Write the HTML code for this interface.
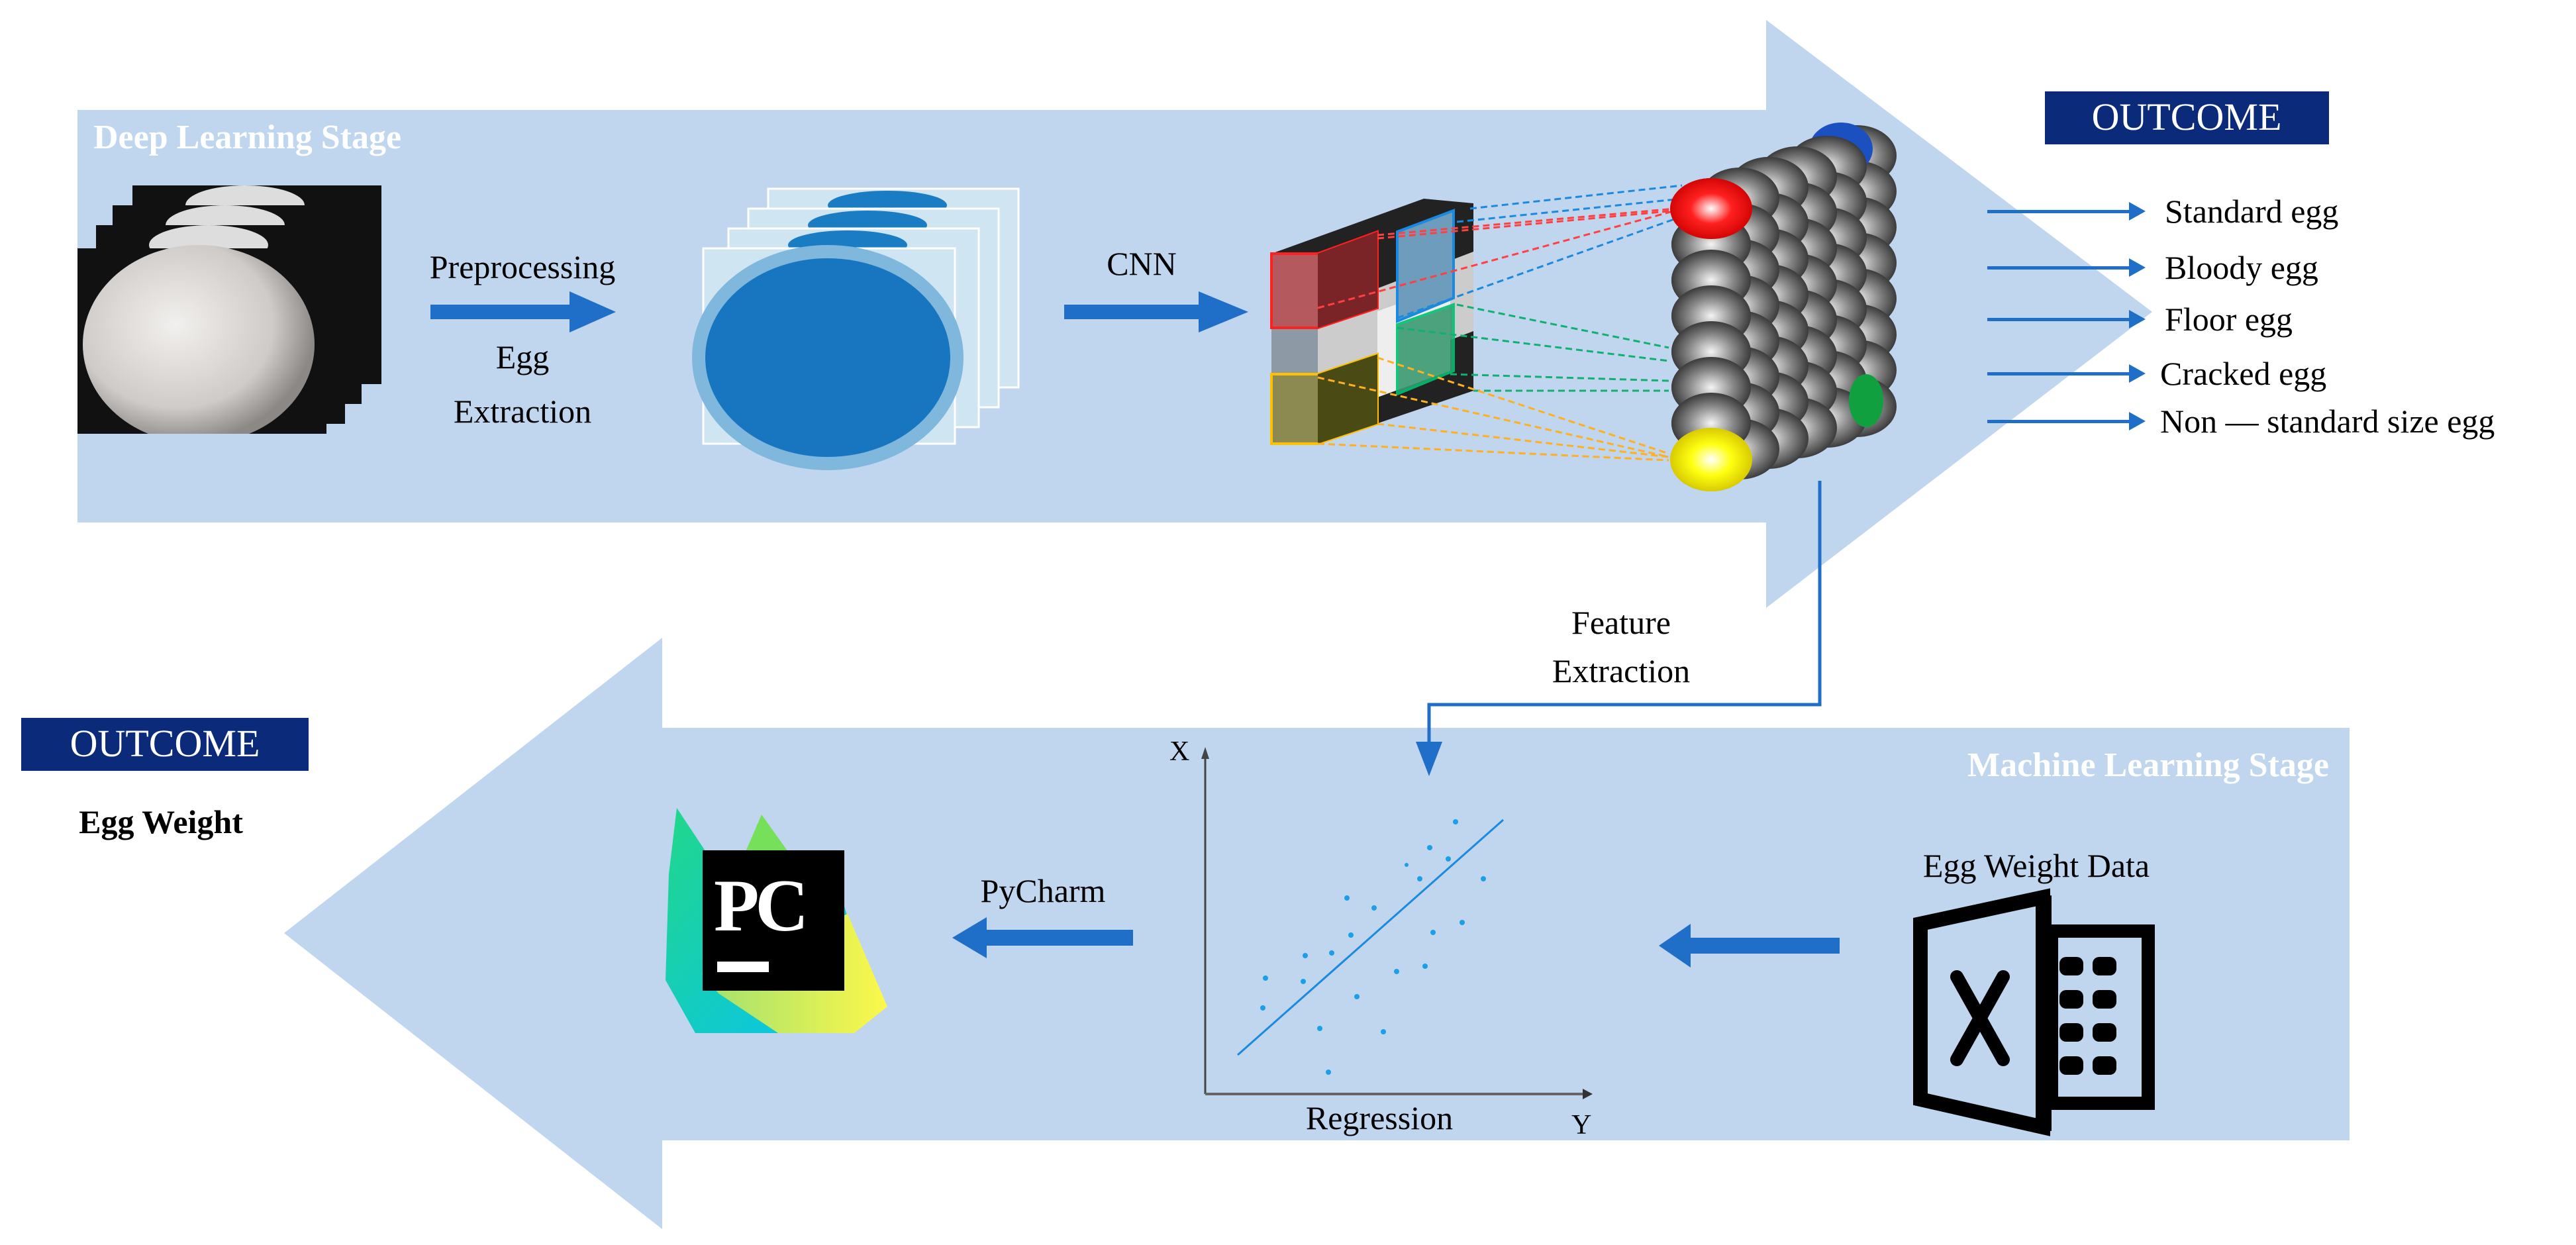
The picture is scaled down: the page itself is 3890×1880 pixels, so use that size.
<!DOCTYPE html>
<html><head><meta charset="utf-8"><style>
html,body{margin:0;padding:0;background:#fff}
svg{display:block}
text{font-family:"Liberation Serif",serif}
</style></head><body>
<svg width="3890" height="1880" viewBox="0 0 3890 1880" xmlns="http://www.w3.org/2000/svg">
<defs>
<radialGradient id="gb" cx="0.5" cy="0.5" r="0.55"><stop offset="0" stop-color="#f4f4f4"/><stop offset="0.5" stop-color="#8a8a8a"/><stop offset="1" stop-color="#2a2a2a"/></radialGradient>
<radialGradient id="gr" cx="0.5" cy="0.5" r="0.55"><stop offset="0" stop-color="#fff"/><stop offset="0.45" stop-color="#ff2020"/><stop offset="1" stop-color="#c00"/></radialGradient>
<radialGradient id="gy" cx="0.5" cy="0.5" r="0.55"><stop offset="0" stop-color="#fff"/><stop offset="0.45" stop-color="#ffff10"/><stop offset="1" stop-color="#d0c000"/></radialGradient>
<radialGradient id="ge" cx="0.4" cy="0.4" r="0.6"><stop offset="0" stop-color="#f2f0ee"/><stop offset="0.7" stop-color="#cfcbc8"/><stop offset="1" stop-color="#8c8886"/></radialGradient>
<linearGradient id="pcg" x1="0" y1="0" x2="1" y2="1"><stop offset="0" stop-color="#21d789"/><stop offset="1" stop-color="#07c3f2"/></linearGradient>
<linearGradient id="pcy" x1="0" y1="0" x2="1" y2="0"><stop offset="0" stop-color="#a0e070"/><stop offset="1" stop-color="#fcf84a"/></linearGradient>
</defs>
<polygon points="117,166 2667,166 2667,30 3250,471 2667,918 2667,789 117,789" fill="#c0d5ee"/>
<polygon points="3548,1099 1000,1099 1000,963 429,1409 1000,1856 1000,1722 3548,1722" fill="#c0d5ee"/>

<text x="141" y="224" font-size="52" font-weight="bold" fill="#fff">Deep Learning Stage</text>

<g>
<rect x="200" y="280" width="376" height="300" fill="#111"/>
<ellipse cx="370" cy="310" rx="90" ry="30" fill="#ddd"/>
<rect x="170" y="310" width="376" height="300" fill="#111"/>
<ellipse cx="340" cy="340" rx="90" ry="30" fill="#ddd"/>
<rect x="145" y="340" width="376" height="300" fill="#111"/>
<ellipse cx="315" cy="370" rx="90" ry="30" fill="#ddd"/>
<rect x="117" y="375" width="376" height="280" fill="#111"/>
<ellipse cx="300" cy="520" rx="175" ry="150" fill="url(#ge)"/>
<rect x="117" y="655" width="380" height="20" fill="#c0d5ee"/>
</g>

<text x="789" y="420" font-size="50" text-anchor="middle">Preprocessing</text>
<text x="789" y="556" font-size="50" text-anchor="middle">Egg</text>
<text x="789" y="638" font-size="50" text-anchor="middle">Extraction</text>
<g fill="#1f6fc8"><rect x="650" y="460" width="220" height="22"/><polygon points="860,440 930,471 860,502"/></g>

<g>
<rect x="1160" y="285" width="378" height="300" fill="#cfe6f2" stroke="#fff" stroke-width="3"/>
<ellipse cx="1340" cy="310" rx="90" ry="22" fill="#1a7cc2"/>
<rect x="1130" y="315" width="378" height="300" fill="#cfe6f2" stroke="#fff" stroke-width="3"/>
<ellipse cx="1310" cy="340" rx="90" ry="22" fill="#1a7cc2"/>
<rect x="1100" y="345" width="378" height="300" fill="#cfe6f2" stroke="#fff" stroke-width="3"/>
<ellipse cx="1280" cy="370" rx="90" ry="22" fill="#1a7cc2"/>
<rect x="1062" y="375" width="380" height="295" fill="#cfe6f2" stroke="#fff" stroke-width="3"/>
<ellipse cx="1250" cy="540" rx="195" ry="160" fill="#1876c0"/>
<ellipse cx="1250" cy="540" rx="195" ry="160" fill="none" stroke="#7fb8dc" stroke-width="20"/>
</g>

<text x="1724" y="415" font-size="50" text-anchor="middle">CNN</text>
<g fill="#1f6fc8"><rect x="1607" y="460" width="210" height="22"/><polygon points="1810,440 1885,471 1810,502"/></g>

<g>
<polygon points="1920,383 2150,300 2225,307 2225,590 1990,670 1920,670" fill="#222"/>
<polygon points="1990,470 2225,380 2225,500 1990,590" fill="#ccc"/>
<polygon points="2080,470 2190,430 2190,560 2080,600" fill="#eee"/>
<rect x="1920" y="495" width="70" height="80" fill="#8d9aa6"/>
<polygon points="1920,383 1990,383 2080,350 2080,465 1990,495 1920,495" fill="#b45a5e" stroke="#ff2020" stroke-width="4"/>
<polygon points="1990,383 2080,350 2080,465 1990,495" fill="#7a2428"/>
<polygon points="2110,350 2195,318 2195,450 2110,485" fill="#6d9cbc" stroke="#1a8ae0" stroke-width="4"/>
<polygon points="2110,490 2195,460 2195,560 2110,595" fill="#3a9a70" stroke="#00c070" stroke-width="4" opacity="0.9"/>
<polygon points="1920,565 1990,565 2080,535 2080,640 1990,670 1920,670" fill="#8c8a50" stroke="#ffc000" stroke-width="4"/>
<polygon points="1990,565 2080,535 2080,640 1990,670" fill="#4a4a14"/>
</g>
<g stroke-dasharray="10,6" stroke-width="3" fill="none">
<line x1="2220" y1="315" x2="2540" y2="280" stroke="#1a8ae0"/>
<line x1="2200" y1="335" x2="2540" y2="300" stroke="#1a8ae0"/>
<line x1="2110" y1="480" x2="2545" y2="325" stroke="#1a8ae0"/>
<line x1="2080" y1="355" x2="2530" y2="315" stroke="#ff4040"/>
<line x1="2080" y1="360" x2="2530" y2="318" stroke="#ff4040"/>
<line x1="1990" y1="465" x2="2530" y2="318" stroke="#ff4040"/>
<line x1="2200" y1="460" x2="2520" y2="525" stroke="#10b070"/>
<line x1="2110" y1="495" x2="2520" y2="545" stroke="#10b070"/>
<line x1="2190" y1="565" x2="2520" y2="575" stroke="#10b070"/>
<line x1="2225" y1="590" x2="2520" y2="590" stroke="#10b070"/>
<line x1="2080" y1="540" x2="2520" y2="685" stroke="#ffb020"/>
<line x1="1990" y1="570" x2="2520" y2="690" stroke="#ffb020"/>
<line x1="2080" y1="640" x2="2520" y2="690" stroke="#ffb020"/>
<line x1="1990" y1="670" x2="2520" y2="695" stroke="#ffb020"/>
</g>
<!-- balls: back columns first -->
<g>
<g id="bc">
<ellipse cx="2584" cy="315" rx="60" ry="46" fill="url(#gb)"/>
<ellipse cx="2584" cy="369" rx="60" ry="46" fill="url(#gb)"/>
<ellipse cx="2584" cy="423" rx="60" ry="46" fill="url(#gb)"/>
<ellipse cx="2584" cy="477" rx="60" ry="46" fill="url(#gb)"/>
<ellipse cx="2584" cy="531" rx="60" ry="46" fill="url(#gb)"/>
<ellipse cx="2584" cy="585" rx="60" ry="46" fill="url(#gb)"/>
<ellipse cx="2584" cy="639" rx="60" ry="46" fill="url(#gb)"/>
<ellipse cx="2584" cy="694" rx="60" ry="46" fill="url(#gb)"/>
</g>
</g>
<g>
<use href="#bc" x="220" y="-80"/>
<ellipse cx="2780" cy="225" rx="48" ry="40" fill="#1a50c0"/>
<use href="#bc" x="175" y="-64"/>
<ellipse cx="2818" cy="605" rx="26" ry="40" fill="#10a040"/>
<use href="#bc" x="130" y="-48"/>
<use href="#bc" x="87" y="-32"/>
<use href="#bc" x="43" y="-16"/>
<use href="#bc" x="0" y="0"/>
<ellipse cx="2584" cy="315" rx="62" ry="46" fill="url(#gr)"/>
<ellipse cx="2584" cy="694" rx="62" ry="48" fill="url(#gy)"/>
</g>

<rect x="3088" y="138" width="429" height="80" fill="#0c2a7a"/>
<text x="3302" y="196" font-size="58" fill="#fff" text-anchor="middle">OUTCOME</text>
<g fill="#1f6fc8">
<rect x="3001" y="317" width="220" height="5"/><polygon points="3215,305 3240,319 3215,333"/>
<rect x="3001" y="402" width="220" height="5"/><polygon points="3215,390 3240,404 3215,418"/>
<rect x="3001" y="480" width="220" height="5"/><polygon points="3215,468 3240,482 3215,496"/>
<rect x="3001" y="562" width="220" height="5"/><polygon points="3215,550 3240,564 3215,578"/>
<rect x="3001" y="634" width="220" height="5"/><polygon points="3215,622 3240,636 3215,650"/>
</g>
<g font-size="50">
<text x="3269" y="336">Standard egg</text>
<text x="3269" y="421">Bloody egg</text>
<text x="3269" y="499">Floor egg</text>
<text x="3262" y="581">Cracked egg</text>
<text x="3262" y="653">Non — standard size egg</text>
</g>

<polyline points="2748,726 2748,1064 2158,1064 2158,1130" fill="none" stroke="#1f6fc8" stroke-width="5"/>
<polygon points="2138,1120 2178,1120 2158,1172" fill="#1f6fc8"/>
<text x="2448" y="957" font-size="50" text-anchor="middle">Feature</text>
<text x="2448" y="1030" font-size="50" text-anchor="middle">Extraction</text>

<rect x="32" y="1084" width="434" height="80" fill="#0c2a7a"/>
<text x="249" y="1142" font-size="58" fill="#fff" text-anchor="middle">OUTCOME</text>
<text x="243" y="1258" font-size="50" font-weight="bold" text-anchor="middle">Egg Weight</text>

<text x="3517" y="1172" font-size="52" font-weight="bold" fill="#fff" text-anchor="end">Machine Learning Stage</text>

<g>
<line x1="1820" y1="1136" x2="1820" y2="1652" stroke="#444" stroke-width="3"/>
<polygon points="1814,1146 1826,1146 1820,1128" fill="#444"/>
<line x1="1820" y1="1652" x2="2395" y2="1652" stroke="#666" stroke-width="4"/>
<polygon points="2390,1644 2405,1652 2390,1660" fill="#333"/>
<text x="1766" y="1148" font-size="42" font-family="Liberation Sans">X</text>
<text x="2373" y="1712" font-size="42" font-family="Liberation Sans">Y</text>
<text x="2083" y="1705" font-size="50" text-anchor="middle">Regression</text>
<line x1="1869" y1="1593" x2="2270" y2="1238" stroke="#1a8ae0" stroke-width="3"/>
<g fill="#1aa0e8">
<circle cx="2198" cy="1241" r="4"/><circle cx="2159" cy="1280" r="4"/><circle cx="2187" cy="1297" r="4"/>
<circle cx="2124" cy="1306" r="3"/><circle cx="2144" cy="1327" r="4"/><circle cx="2240" cy="1327" r="4"/>
<circle cx="2034" cy="1356" r="4"/><circle cx="2075" cy="1371" r="4"/><circle cx="2208" cy="1393" r="4"/>
<circle cx="2164" cy="1408" r="4"/><circle cx="2040" cy="1412" r="4"/><circle cx="1971" cy="1443" r="4"/>
<circle cx="2011" cy="1439" r="4"/><circle cx="2152" cy="1459" r="4"/><circle cx="2109" cy="1467" r="4"/>
<circle cx="1911" cy="1477" r="4"/><circle cx="1968" cy="1482" r="4"/><circle cx="2049" cy="1505" r="4"/>
<circle cx="1907" cy="1522" r="4"/><circle cx="1993" cy="1553" r="4"/><circle cx="2089" cy="1558" r="4"/>
<circle cx="2006" cy="1619" r="4"/>
</g>
</g>

<g>
<polygon points="1022,1220 1075,1300 1255,1300 1290,1420 1250,1480 1175,1560 1050,1560 1005,1480 1010,1320" fill="url(#pcg)"/>
<polygon points="1060,1470 1280,1380 1340,1520 1290,1560 1175,1560 1085,1500" fill="url(#pcy)"/>
<polygon points="1150,1230 1200,1300 1120,1300" fill="#76e05a"/>
<rect x="1061" y="1284" width="214" height="212" fill="#000"/>
<text x="1078" y="1405" font-size="112" font-weight="bold" fill="#fff" font-family="Liberation Sans" letter-spacing="-6">PC</text>
<rect x="1083" y="1452" width="78" height="16" fill="#fff"/>
</g>
<text x="1575" y="1362" font-size="50" text-anchor="middle">PyCharm</text>
<g fill="#1f6fc8"><rect x="1480" y="1404" width="231" height="24"/><polygon points="1490,1385 1438,1416 1490,1447"/></g>
<g fill="#1f6fc8"><rect x="2545" y="1416" width="233" height="24"/><polygon points="2553,1395 2505,1428 2553,1461"/></g>

<text x="3075" y="1324" font-size="50" text-anchor="middle">Egg Weight Data</text>
<g>
<polygon points="2900,1395 3085,1355 3085,1702 2900,1660" fill="none" stroke="#000" stroke-width="22"/>
<polygon points="3085,1355 3098,1352 3098,1708 3085,1705" fill="#000"/>
<rect x="3098" y="1406" width="146" height="260" fill="none" stroke="#000" stroke-width="20"/>
<g stroke="#000" stroke-width="20" stroke-linecap="round"><line x1="2955" y1="1475" x2="3025" y2="1600"/><line x1="3025" y1="1475" x2="2955" y2="1600"/></g>
<g fill="#000">
<rect x="3110" y="1445" width="36" height="28" rx="10"/><rect x="3160" y="1445" width="36" height="28" rx="10"/>
<rect x="3110" y="1495" width="36" height="28" rx="10"/><rect x="3160" y="1495" width="36" height="28" rx="10"/>
<rect x="3110" y="1545" width="36" height="28" rx="10"/><rect x="3160" y="1545" width="36" height="28" rx="10"/>
<rect x="3110" y="1595" width="36" height="28" rx="10"/><rect x="3160" y="1595" width="36" height="28" rx="10"/>
</g>
</g>
</svg>
</body></html>
